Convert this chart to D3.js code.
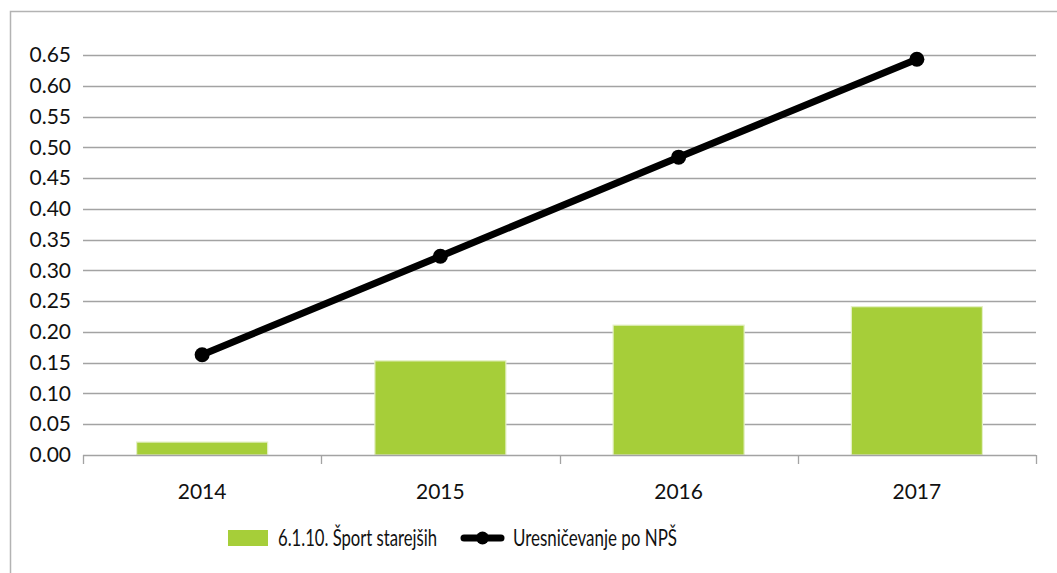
<!DOCTYPE html>
<html>
<head>
<meta charset="utf-8">
<script src="https://cdn.jsdelivr.net/npm/d3@7/dist/d3.min.js"></script>
<style>
  html, body { margin: 0; padding: 0; background: #ffffff; }
  svg { display: block; }
  text { font-family: Lato, "Open Sans", sans-serif; fill: #111111; }
</style>
</head>
<body>
<svg id="chart" width="1057" height="573"></svg>
<script>
// Chart data
const years = ["2014", "2015", "2016", "2017"];
const sportValues = [0.021, 0.153, 0.211, 0.241];      // 6.1.10. Šport starejših
const realisationValues = [0.163, 0.323, 0.484, 0.643]; // Uresničevanje po NPŠ
const yTicks = [0, 0.05, 0.10, 0.15, 0.20, 0.25, 0.30, 0.35, 0.40, 0.45, 0.50, 0.55, 0.60, 0.65];
const barLabel = "6.1.10. Šport starejših";
const lineLabel = "Uresničevanje po NPŠ";

const barColor = "#a6ce39";
const lineColor = "#000000";
const gridColor = "#a3a3a3";
const fontSize = 21;

const svg = d3.select("#chart");

// Outer frame (runs off the right and bottom edges)
svg.append("rect")
  .attr("x", 10.5).attr("y", 11.5)
  .attr("width", 1100).attr("height", 700)
  .attr("fill", "none")
  .attr("stroke", "#b3b3b3")
  .attr("stroke-width", 1.5);

const plot = { left: 83, right: 1036, top: 55, bottom: 455 };

const x = d3.scaleBand()
  .domain(years)
  .range([plot.left, plot.right])
  .paddingInner(0.45)
  .paddingOuter(0.225);

const xBand = d3.scaleBand().domain(years).range([plot.left, plot.right]);

const y = d3.scaleLinear()
  .domain([0, 0.65])
  .range([plot.bottom, plot.top]);

// Horizontal gridlines
svg.append("g")
  .selectAll("line")
  .data(yTicks.filter(d => d > 0))
  .join("line")
  .attr("x1", plot.left).attr("x2", plot.right)
  .attr("y1", d => Math.round(y(d)) + 0.5)
  .attr("y2", d => Math.round(y(d)) + 0.5)
  .attr("stroke", gridColor)
  .attr("stroke-width", 1.3);

// Y axis labels
const yAxis = d3.axisLeft(y)
  .tickValues(yTicks)
  .tickFormat(d3.format(".2f"))
  .tickSize(0)
  .tickPadding(12);

const yg = svg.append("g")
  .attr("transform", `translate(${plot.left},0)`)
  .call(yAxis);
yg.select(".domain").remove();
yg.selectAll("text")
  .attr("font-size", fontSize)
  .attr("font-family", "Lato, sans-serif")
  .attr("fill", "#111111");

// Bars
svg.append("g")
  .selectAll("rect")
  .data(years.map((yr, i) => ({ yr, v: sportValues[i] })))
  .join("rect")
  .attr("x", d => x(d.yr))
  .attr("width", x.bandwidth())
  .attr("y", d => y(d.v))
  .attr("height", d => y(0) - y(d.v))
  .attr("fill", barColor)
  .attr("stroke", "#e4f0c4")
  .attr("stroke-width", 1.2);

// X axis with ticks at category boundaries
const xg = svg.append("g")
  .attr("transform", `translate(0,${plot.bottom})`);
const boundaries = years.map(yr => xBand(yr)).concat([plot.right]);
xg.append("line")
  .attr("x1", plot.left).attr("x2", plot.right)
  .attr("y1", 0.5).attr("y2", 0.5)
  .attr("stroke", gridColor).attr("stroke-width", 1.3);
xg.selectAll("line.tick")
  .data(boundaries)
  .join("line")
  .attr("class", "tick")
  .attr("x1", d => Math.round(d) + 0.5).attr("x2", d => Math.round(d) + 0.5)
  .attr("y1", 0).attr("y2", 9)
  .attr("stroke", gridColor).attr("stroke-width", 1.3);
xg.selectAll("text")
  .data(years)
  .join("text")
  .attr("x", d => xBand(d) + xBand.bandwidth() / 2)
  .attr("y", 44)
  .attr("text-anchor", "middle")
  .attr("font-size", fontSize)
  .text(d => d);

// Line series with markers
const pts = years.map((yr, i) => [xBand(yr) + xBand.bandwidth() / 2, y(realisationValues[i])]);
svg.append("path")
  .attr("d", d3.line()(pts))
  .attr("fill", "none")
  .attr("stroke", lineColor)
  .attr("stroke-width", 7)
  .attr("stroke-linejoin", "round");
svg.append("g")
  .selectAll("circle")
  .data(pts)
  .join("circle")
  .attr("cx", d => d[0]).attr("cy", d => d[1])
  .attr("r", 7.5)
  .attr("fill", lineColor);

// Legend
const legend = svg.append("g");
legend.append("rect")
  .attr("x", 228).attr("y", 530)
  .attr("width", 40).attr("height", 16)
  .attr("fill", barColor);
legend.append("text")
  .attr("x", 278).attr("y", 546)
  .attr("font-size", 22.5)
  .attr("textLength", 159)
  .attr("lengthAdjust", "spacingAndGlyphs")
  .text(barLabel);
legend.append("line")
  .attr("x1", 464).attr("x2", 501)
  .attr("y1", 538).attr("y2", 538)
  .attr("stroke", lineColor)
  .attr("stroke-width", 7)
  .attr("stroke-linecap", "round");
legend.append("circle")
  .attr("cx", 482.5).attr("cy", 538).attr("r", 6.5)
  .attr("fill", lineColor);
legend.append("text")
  .attr("x", 513).attr("y", 546)
  .attr("font-size", 22.5)
  .attr("textLength", 164)
  .attr("lengthAdjust", "spacingAndGlyphs")
  .text(lineLabel);
</script>
</body>
</html>
